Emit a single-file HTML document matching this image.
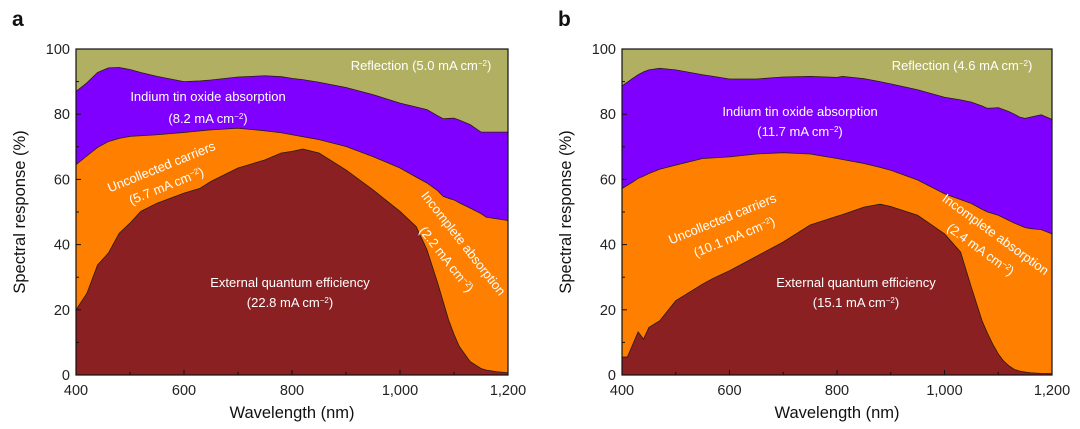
<!DOCTYPE html>
<html><head><meta charset="utf-8"><style>
html,body{margin:0;padding:0;background:#fff;}
svg{display:block;font-family:"Liberation Sans",sans-serif;}
</style></head><body>
<svg id="chart" width="1080" height="429"></svg>
<script>
const wlA=[400,420,440,460,480,500,520,550,600,630,650,700,750,780,800,820,850,900,950,1000,1030,1050,1070,1080,1090,1100,1110,1130,1150,1160,1180,1200];
const eqeA=[20,25,33.8,37.4,43.5,46.6,50.2,52.7,55.8,57.3,59.4,63.5,66,68.1,68.6,69.3,68.1,62.9,56.8,50.2,45.5,38.4,28.1,22.5,16.9,12.5,8.7,4.1,2,1.5,1,0.7];
const itoBotA=[64.5,67.2,69.8,71.6,72.6,73.2,73.4,73.7,74.4,74.9,75.2,75.7,74.9,74.3,73.7,73.1,72.2,70.1,67,63.5,60.7,58.9,56.5,54.8,54.2,53.7,52.8,51.2,49.5,48.4,47.9,47.4];
const reflA=[87,89.6,92.8,94.2,94.3,93.7,92.8,91.6,90,90.2,90.5,91.4,91.8,91.5,91,90.6,89.8,88.2,86,83.4,82.2,81.4,79.5,78.6,78.7,78.8,78.2,76.8,74.5,74.5,74.5,74.5];
const wlB=[400,410,420,430,440,450,470,500,550,570,600,650,700,750,800,810,850,880,900,950,1000,1030,1050,1070,1080,1090,1100,1110,1120,1130,1140,1150,1160,1180,1200];
const eqeB=[5.5,5.5,9.4,13.2,11,14.6,16.6,22.8,27.9,29.7,32,36.4,40.8,46,48.7,49.2,51.5,52.4,51.7,49,43.3,37.7,26.9,16.6,12.8,9.4,6.5,4.3,2.8,1.7,1.2,0.9,0.7,0.5,0.4];
const itoBotB=[57.2,58.2,59.2,60.3,61,61.8,63.1,64.4,66.4,66.6,66.9,67.8,68.2,67.8,66.4,66.1,64.9,63.7,62.8,59.8,55.6,53.8,52.6,50.8,50,49.5,49,48.2,47.4,46.6,45.9,45.2,44.9,44.6,43.3];
const reflB=[88.7,89.8,91,92.1,93,93.6,94.1,93.6,92.1,91.6,90.8,90.8,91.4,91.6,91.3,91.6,90.9,90,89.3,87.5,85.2,84.4,83.7,82.5,81.8,81.9,82,81.4,80.8,80,79.1,78.7,79.1,79.8,78.4];
const xTicks=[400,600,800,1000,1200];
const xTickLabels=["400","600","800","1,000","1,200"];
const yTicks=[0,20,40,60,80,100];
const NS="http://www.w3.org/2000/svg";
const svg=document.getElementById('chart');
function mk(tag,attrs,parent){const e=document.createElementNS(NS,tag);for(const k in attrs)e.setAttribute(k,attrs[k]);(parent||svg).appendChild(e);return e;}
function panel(letter,X0,X1,wl,eqe,itoBot,refl,labels){
  const Y0=375,Y1=49;
  const sx=v=>X0+(v-400)/800*(X1-X0);
  const sy=v=>Y0-v/100*(Y0-Y1);
  const g=mk('g',{});
  
  
  function area(top,bot,fill,name){
    let d='M'+wl.map((w,i)=>sx(w)+','+sy(top[i])).join(' L');
    for(let i=wl.length-1;i>=0;i--)d+=' L'+sx(wl[i])+','+sy(bot?bot[i]:0);
    const p=mk('path',{d:d+'Z',fill:fill},g);
    
    
  }
  const hundred=wl.map(()=>100);
  area(hundred,refl,'#b1b062','reflection-area');
  area(refl,itoBot,'#8000ff','ito-absorption-area');
  area(itoBot,eqe,'#ff8000','uncollected-area');
  area(eqe,null,'#8b2023','eqe-area');
  [refl,itoBot,eqe].forEach((s,j)=>{
    const l=mk('polyline',{points:wl.map((w,i)=>sx(w)+','+sy(s[i])).join(' '),fill:'none',stroke:'#2a1a10','stroke-width':0.8},g);
    
    
  });
  const fr=mk('rect',{x:X0,y:Y1,width:X1-X0,height:Y0-Y1,fill:'none',stroke:'#111','stroke-width':1.2},g);
  
  
  for(let v=400;v<=1200;v+=100){mk('line',{x1:sx(v),x2:sx(v),y1:Y0,y2:Y0-(v%200==0?5:3),stroke:'#111'},g);}
  for(let v=0;v<=100;v+=10){mk('line',{x1:X0,x2:X0+(v%20==0?5:3),y1:sy(v),y2:sy(v),stroke:'#111'},g);}
  xTicks.forEach((v,i)=>{const t=mk('text',{x:sx(v),y:Y0+20,'font-size':14.5,'text-anchor':'middle',fill:'#222'},g);t.textContent=xTickLabels[i];
    });
  yTicks.forEach(v=>{const t=mk('text',{x:X0-6,y:sy(v)+5,'font-size':14.5,'text-anchor':'end',fill:'#222'},g);t.textContent=v;
    });
  const xt=mk('text',{x:(X0+X1)/2,y:418,'font-size':16.5,'text-anchor':'middle',fill:'#111'},g);xt.textContent='Wavelength (nm)';
  
  const yx=X0-51;
  const yt=mk('text',{x:yx,y:212,'font-size':16.5,'text-anchor':'middle',fill:'#111',transform:'rotate(-90 '+yx+' 212)'},g);yt.textContent='Spectral response (%)';
  
  const pl=mk('text',{x:X0-64,y:26,'font-size':21,'font-weight':'bold',fill:'#111'},g);pl.textContent=letter;
  
  labels.forEach(L=>{
    const t=mk('text',{x:L[0],y:L[1],'font-size':13,'text-anchor':'middle',fill:'#fff',transform:'rotate('+L[3]+' '+L[0]+' '+L[1]+')'},g);
    t.innerHTML=L[2];
    
  });
}
const sup='mA cm<tspan baseline-shift="super" font-size="8">−2</tspan>)';
panel('a',76,508,wlA,eqeA,itoBotA,reflA,[
 [421,70,'Reflection (5.0 '+sup,0],
 [208,101,'Indium tin oxide absorption',0],
 [208,123,'(8.2 '+sup,0],
 [163,171,'Uncollected carriers',-22],
 [168,190,'(5.7 '+sup,-22],
 [460,246,'Incomplete absorption',52],
 [443,262,'(2.2 '+sup,52],
 [290,287,'External quantum efficiency',0],
 [290,307,'(22.8 '+sup,0]
]);
panel('b',622,1052,wlB,eqeB,itoBotB,reflB,[
 [962,70,'Reflection (4.6 '+sup,0],
 [800,116,'Indium tin oxide absorption',0],
 [800,136,'(11.7 '+sup,0],
 [724,223,'Uncollected carriers',-22],
 [736,241,'(10.1 '+sup,-22],
 [993,238,'Incomplete absorption',36],
 [978,253,'(2.4 '+sup,36],
 [856,287,'External quantum efficiency',0],
 [856,307,'(15.1 '+sup,0]
]);
</script>
</body></html>
